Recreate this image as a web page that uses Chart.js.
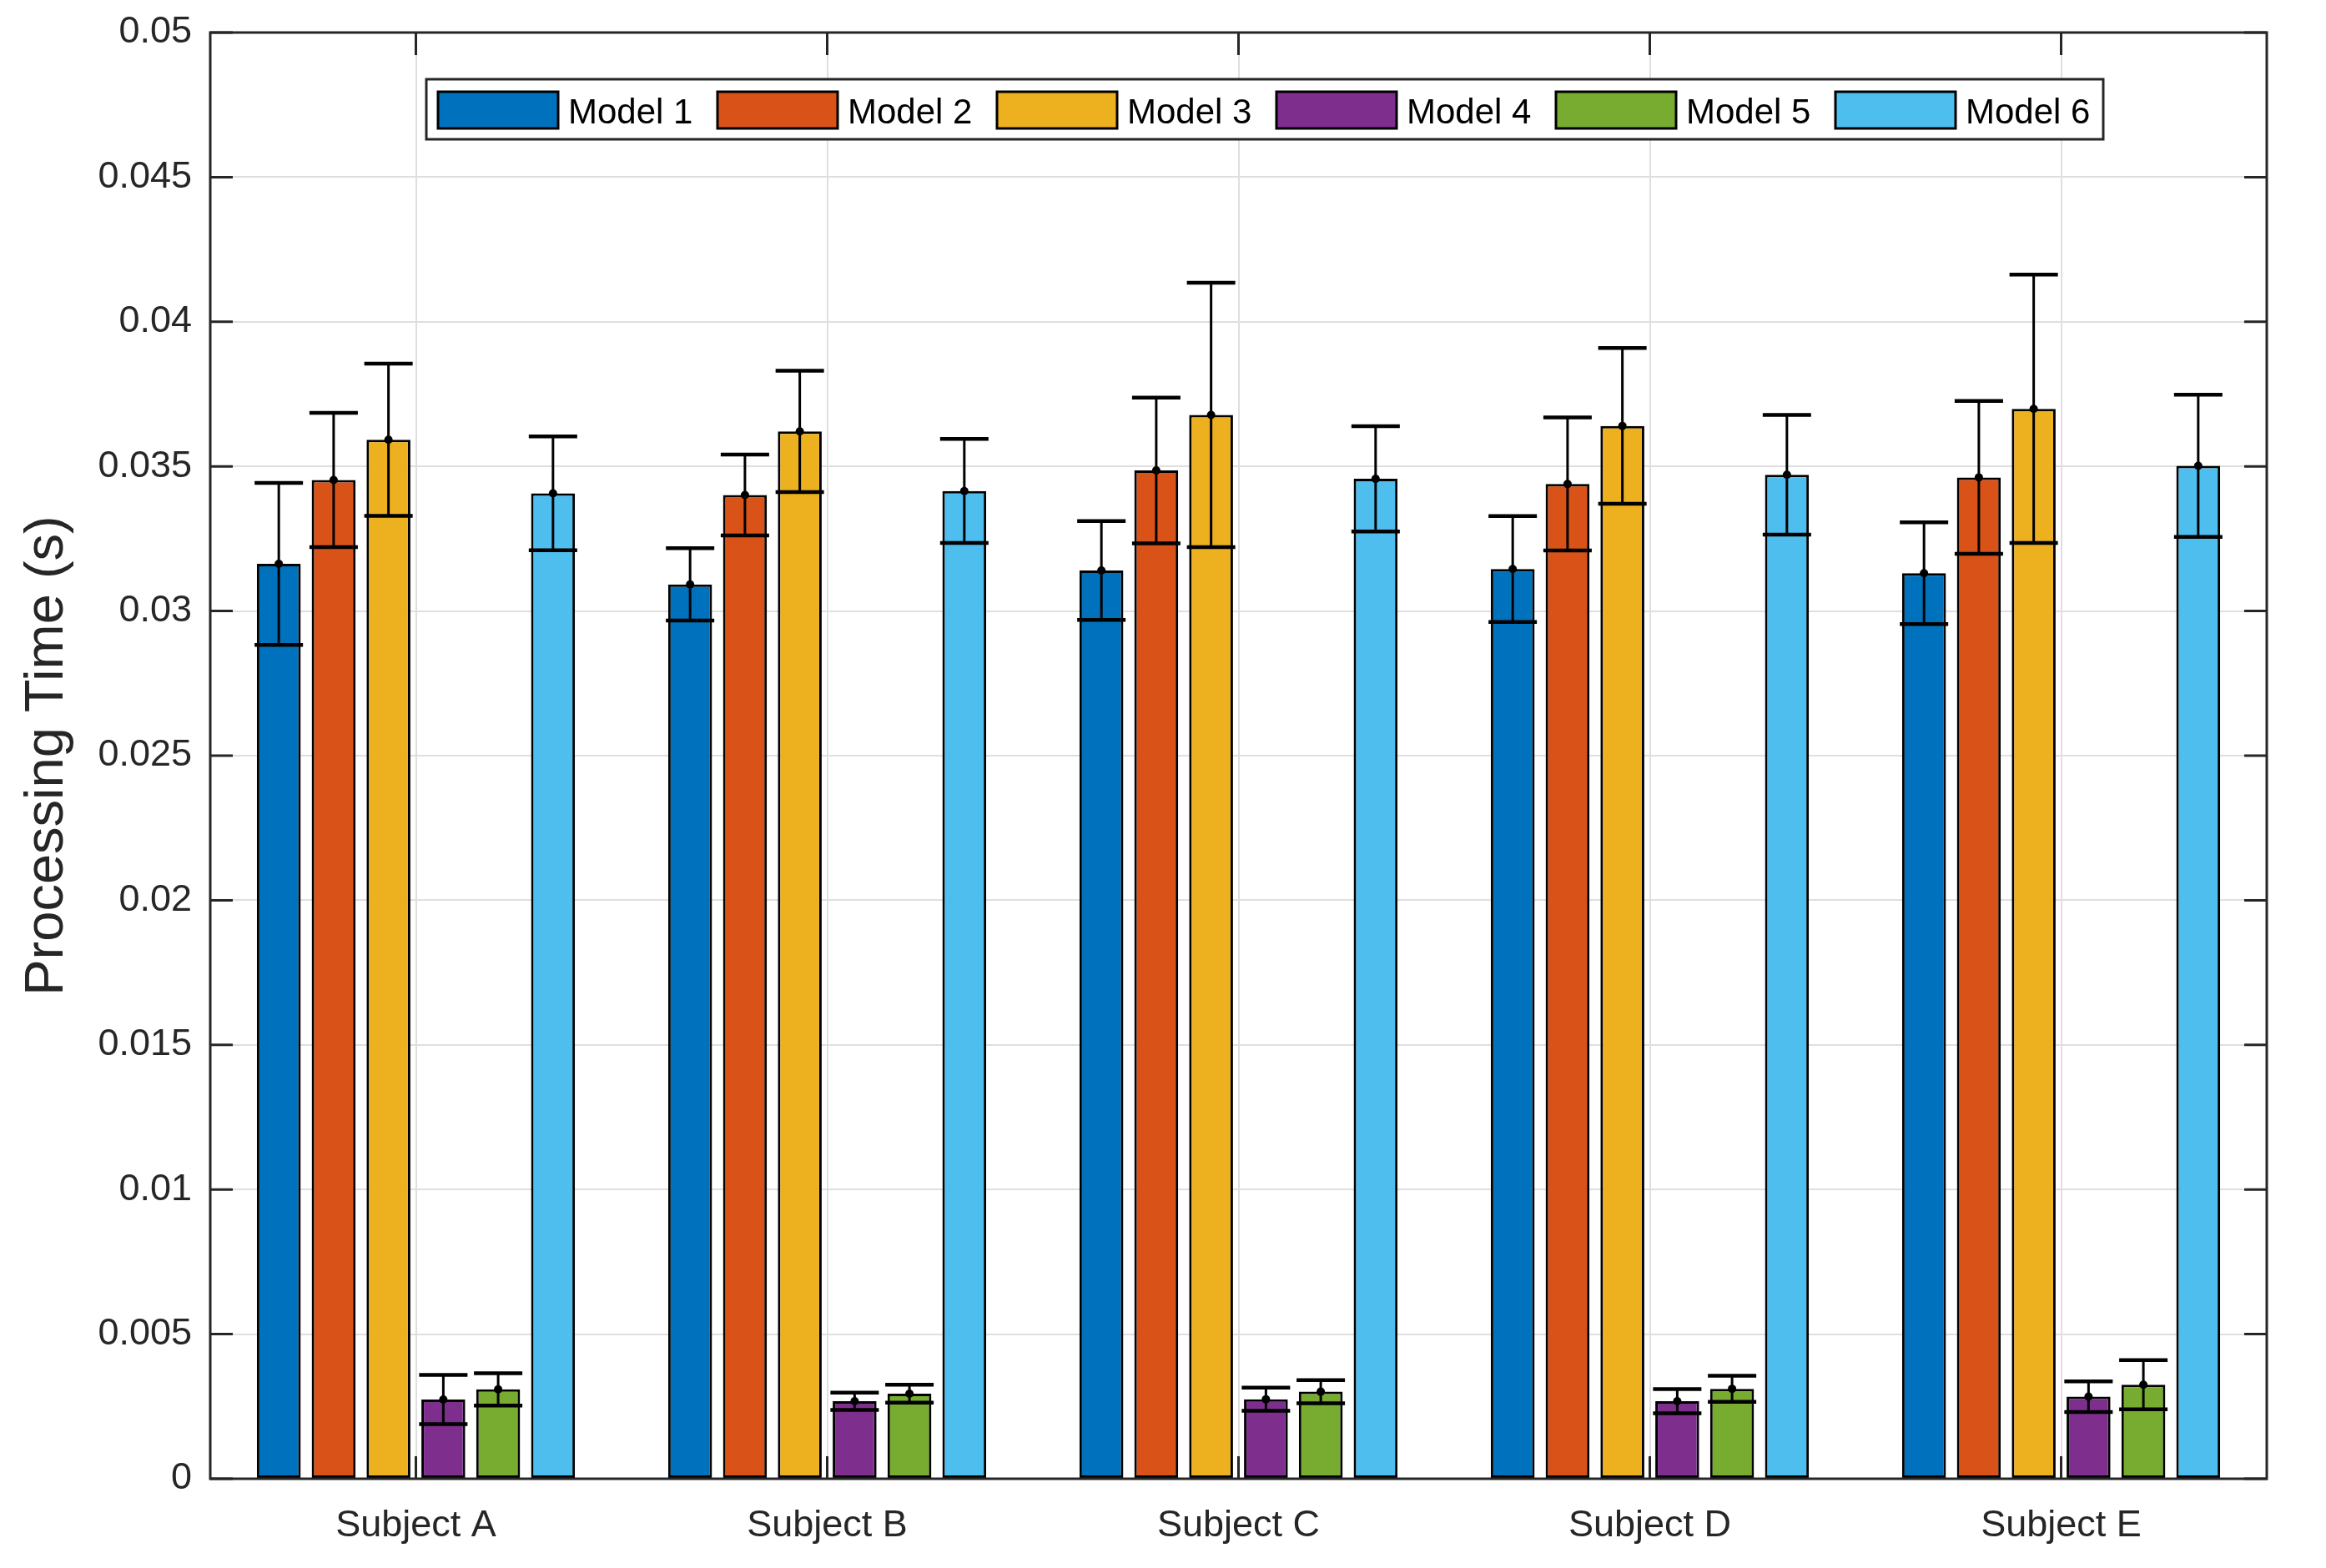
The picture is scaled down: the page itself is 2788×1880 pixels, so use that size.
<!DOCTYPE html>
<html><head><meta charset="utf-8">
<script src="https://cdn.jsdelivr.net/npm/chart.js@4.4.1/dist/chart.umd.min.js"></script>
<style>html,body{margin:0;padding:0;background:#fff;} canvas{display:block}</style>
</head><body>
<canvas id="c" width="2788" height="1880"></canvas>
<script>
// ---- data ----
const categories = ['Subject A', 'Subject B', 'Subject C', 'Subject D', 'Subject E'];
const seriesNames = ['Model 1', 'Model 2', 'Model 3', 'Model 4', 'Model 5', 'Model 6'];
const model1 = [0.03163, 0.03092, 0.03140, 0.03145, 0.03131];
const model2 = [0.03453, 0.03401, 0.03486, 0.03439, 0.03462];
const model3 = [0.03592, 0.03621, 0.03678, 0.03640, 0.03699];
const model4 = [0.00274, 0.00268, 0.00275, 0.00268, 0.00284];
const model5 = [0.00309, 0.00294, 0.00301, 0.00311, 0.00325];
const model6 = [0.03407, 0.03415, 0.03457, 0.03471, 0.03502];
const model1Err = [0.00280, 0.00125, 0.00171, 0.00183, 0.00176];
const model2Err = [0.00232, 0.00140, 0.00252, 0.00230, 0.00264];
const model3Err = [0.00263, 0.00210, 0.00457, 0.00269, 0.00464];
const model4Err = [0.00085, 0.00030, 0.00040, 0.00042, 0.00053];
const model5Err = [0.00056, 0.00031, 0.00040, 0.00045, 0.00085];
const model6Err = [0.00197, 0.00180, 0.00182, 0.00207, 0.00246];
const yTicks = [0, 0.005, 0.01, 0.015, 0.02, 0.025, 0.03, 0.035, 0.04, 0.045, 0.05];
const yTickLabels = ['0', '0.005', '0.01', '0.015', '0.02', '0.025', '0.03', '0.035', '0.04', '0.045', '0.05'];
const yTitle = 'Processing Time (s)';

const seriesValues = [model1, model2, model3, model4, model5, model6];
const seriesErrors = [model1Err, model2Err, model3Err, model4Err, model5Err, model6Err];
const colors = ['#0072BD', '#D95319', '#EDB120', '#7E2F8E', '#77AC30', '#4DBEEE'];

const AX = '#262626';
const FONT = "'Liberation Sans', Arial, Helvetica, sans-serif";

const datasets = seriesNames.map((n, i) => ({
  label: n,
  data: seriesValues[i],
  errors: seriesErrors[i],
  backgroundColor: colors[i],
  borderColor: '#000',
  borderWidth: 3,
  borderSkipped: false,
  categoryPercentage: 0.8,
  barPercentage: 0.8
}));

const axesPlugin = {
  id: 'axesBox',
  afterDatasetsDraw(chart) {
    const ctx = chart.ctx, a = chart.chartArea;
    const xs = chart.scales.x, ys = chart.scales.y;
    ctx.save();
    ctx.strokeStyle = AX;
    ctx.lineWidth = 3;
    ctx.lineCap = 'butt';
    const tl = 27;
    ctx.beginPath();
    yTicks.forEach(v => {
      const y = ys.getPixelForValue(v);
      ctx.moveTo(a.left, y); ctx.lineTo(a.left + tl, y);
      ctx.moveTo(a.right, y); ctx.lineTo(a.right - tl, y);
    });
    categories.forEach((c, i) => {
      const x = xs.getPixelForValue(i);
      ctx.moveTo(x, a.bottom); ctx.lineTo(x, a.bottom - tl);
      ctx.moveTo(x, a.top); ctx.lineTo(x, a.top + tl);
    });
    ctx.stroke();
    ctx.lineJoin = 'miter';
    ctx.strokeRect(a.left, a.top, a.right - a.left, a.bottom - a.top);
    ctx.restore();

    // error bars
    ctx.save();
    chart.data.datasets.forEach((ds, di) => {
      const meta = chart.getDatasetMeta(di);
      meta.data.forEach((bar, i) => {
        const v = ds.data[i], e = ds.errors[i];
        const x = bar.x;
        const yTop = ys.getPixelForValue(v + e);
        const yBot = ys.getPixelForValue(v - e);
        const yMid = ys.getPixelForValue(v);
        ctx.strokeStyle = '#000';
        ctx.lineWidth = 3;
        ctx.beginPath();
        ctx.moveTo(x, yTop); ctx.lineTo(x, yBot);
        ctx.stroke();
        ctx.lineWidth = 4.5;
        const cw = 29;
        ctx.beginPath();
        ctx.moveTo(x - cw, yTop); ctx.lineTo(x + cw, yTop);
        ctx.moveTo(x - cw, yBot); ctx.lineTo(x + cw, yBot);
        ctx.stroke();
        ctx.fillStyle = '#000';
        ctx.beginPath();
        ctx.arc(x, yMid, 5, 0, Math.PI * 2);
        ctx.fill();
      });
    });
    ctx.restore();
  },
  afterDraw(chart) {
    // legend box drawn inside the plot area
    const ctx = chart.ctx, a = chart.chartArea;
    const lx = a.left + 259, ly = a.top + 56, lw = 2010, lh = 72;
    ctx.save();
    ctx.fillStyle = '#fff';
    ctx.fillRect(lx, ly, lw, lh);
    ctx.strokeStyle = AX;
    ctx.lineWidth = 3;
    ctx.strokeRect(lx, ly, lw, lh);
    ctx.font = '42px ' + FONT;
    ctx.textBaseline = 'alphabetic';
    ctx.textAlign = 'left';
    chart.data.datasets.forEach((ds, i) => {
      const sx = lx + 14 + i * 335, sy = ly + 15;
      ctx.fillStyle = ds.backgroundColor;
      ctx.fillRect(sx, sy, 144, 44);
      ctx.strokeStyle = '#000';
      ctx.lineWidth = 3;
      ctx.strokeRect(sx, sy, 144, 44);
      ctx.fillStyle = '#000';
      ctx.fillText(ds.label, sx + 156, ly + 53);
    });
    ctx.restore();
  }
};

new Chart(document.getElementById('c'), {
  type: 'bar',
  data: { labels: categories, datasets },
  plugins: [axesPlugin],
  options: {
    responsive: false,
    animation: false,
    devicePixelRatio: 1,
    layout: { padding: { left: 0, top: 39, right: 71, bottom: 0 } },
    plugins: { legend: { display: false }, tooltip: { enabled: false } },
    scales: {
      x: {
        type: 'category',
        offset: true,
        grid: { display: true, offset: false, color: '#dfdfdf', lineWidth: 2, drawTicks: false },
        border: { display: false },
        ticks: { color: AX, font: { family: FONT, size: 45 }, padding: 30, maxRotation: 0 },
        afterFit(s) { s.height = 107; s.paddingLeft = 0; s.paddingRight = 0; }
      },
      y: {
        min: 0, max: 0.05,
        afterBuildTicks(s) { s.ticks = yTicks.map(v => ({ value: v })); },
        grid: { color: '#dfdfdf', lineWidth: 2, drawTicks: false },
        border: { display: false },
        ticks: { color: AX, font: { family: FONT, size: 45 }, padding: 22,
          callback: (v, i) => yTickLabels[i] },
        title: { display: true, text: yTitle, color: AX, font: { family: FONT, size: 65 }, padding: { top: 18, bottom: 0 } },
        afterFit(s) { s.width = 252; s.paddingTop = 0; s.paddingBottom = 0; }
      }
    }
  }
});
</script>
</body></html>
